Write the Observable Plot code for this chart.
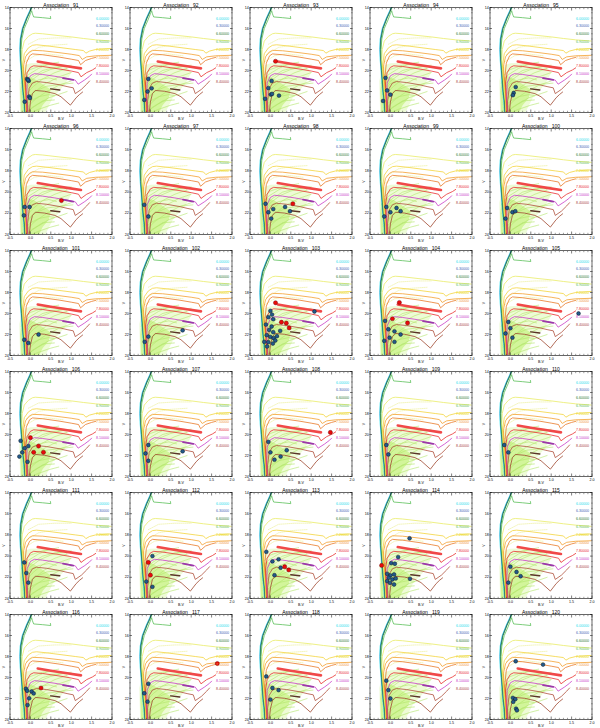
<!DOCTYPE html>
<html><head><meta charset="utf-8">
<script src="https://cdn.jsdelivr.net/npm/d3@7"></script>
<script src="https://cdn.jsdelivr.net/npm/@observablehq/plot@0.6"></script>
<style>
body{margin:0;background:#fff;}
#wrap{position:relative;width:600px;height:728px;overflow:hidden;background:#fff;}
.panel{position:absolute;}
.panel svg{display:block;overflow:visible;}
.panel text{white-space:pre;}
</style></head><body><div id="wrap"></div>
<script>
// ---- panels ----
const associations = [91,92,93,94,95,96,97,98,99,100,101,102,103,104,105,106,107,108,109,110,111,112,113,114,115,116,117,118,119,120];

// ---- axis ticks ----
const xMajor = [-0.5, 0, 0.5, 1, 1.5, 2];
const xMinor = [-0.4,-0.3,-0.2,-0.1,0.1,0.2,0.3,0.4,0.6,0.7,0.8,0.9,1.1,1.2,1.3,1.4,1.6,1.7,1.8,1.9];
const yMajor = [14, 16, 18, 20, 22, 24];
const yMinor = [14.5,15,15.5,16.5,17,17.5,18.5,19,19.5,20.5,21,21.5,22.5,23,23.5];

// ---- isochrone legend ----
const ageLabels = ["6.00000","6.30000","6.60000","6.90000","7.20000","7.50000","7.80000","8.10000","8.40000"];
const ageColors = ["#19e0ec","#3a64b4","#1d7a2c","#5cc05a","#e8e020","#f0a040","#e83030","#c83cc8","#a8483c"];

// ---- isochrones [B-V, V] ----
const isoCyan = [[-0.14,24.5],[-0.16,23],[-0.19,22],[-0.21,21],[-0.23,20],[-0.25,19],[-0.26,18],[-0.25,17],[-0.2,16],[-0.1,15],[0.02,14],[0.08,13.5]];
const isoBlue = [[-0.13,24.5],[-0.15,23],[-0.18,22],[-0.2,21],[-0.22,20],[-0.24,19],[-0.25,18],[-0.24,17],[-0.19,16],[-0.09,15],[0.03,14],[0.09,13.5]];
const isoDarkGreen = [[-0.12,24.5],[-0.14,23],[-0.17,22],[-0.19,21],[-0.21,20],[-0.23,19],[-0.24,18],[-0.23,17],[-0.18,16],[-0.08,15],[0.04,14],[0.1,13.5]];
const isoGreen = [[-0.11,24.5],[-0.13,23],[-0.16,22],[-0.18,21],[-0.2,20],[-0.22,19],[-0.23,18],[-0.21,17],[-0.15,16],[-0.06,15.2],[0.0,14.6],[0.03,14.3],[0.05,14.6],[0.08,14.9],[0.3,14.97],[0.5,15.05],[0.49,14.85]];
const isoPale = [[-0.1,24.5],[-0.12,23],[-0.15,22],[-0.17,21],[-0.19,20],[-0.21,19],[-0.2,18],[-0.15,17.2],[-0.05,16.75],[0.05,16.5],[0.12,16.45],[0.3,16.5],[0.7,16.68],[1.0,16.8],[1.3,16.95],[1.6,17.08],[2.0,17.2],[2.1,17.2]];
const isoYellow = [[-0.1,24.5],[-0.13,22],[-0.17,20.5],[-0.19,19.5],[-0.15,18.4],[-0.05,17.85],[0.05,17.6],[0.15,17.55],[0.4,17.65],[0.8,17.85],[1.1,18.0],[1.3,18.1],[1.36,18.35],[1.45,18.15],[1.6,18.0],[2.0,17.9],[2.1,17.9]];
const isoOrange = [[-0.09,24.5],[-0.12,22],[-0.16,20.5],[-0.17,19.6],[-0.12,18.7],[-0.03,18.25],[0.05,18.08],[0.3,18.12],[0.7,18.3],[1.0,18.45],[1.2,18.58],[1.27,18.95],[1.38,18.7],[1.6,18.6],[2.0,18.55],[2.1,18.55]];
const isoOrange2 = [[-0.08,24.5],[-0.11,22],[-0.14,20.8],[-0.1,19.3],[-0.02,18.6],[0.05,18.42],[0.3,18.5],[0.7,18.72],[1.0,18.92],[1.18,19.05],[1.23,19.45],[1.35,19.05],[1.5,18.85],[1.6,18.75]];
const isoRed = [[-0.07,24.5],[-0.1,22.5],[-0.12,21.2],[-0.08,20.2],[0.0,19.7],[0.08,19.55],[0.3,19.62],[0.7,19.85],[1.0,20.05],[1.18,20.2],[1.24,20.6],[1.38,20.2],[1.52,19.95],[1.6,19.75]];
const redClump = [[0.18,19.15],[0.5,19.35],[0.9,19.6],[1.24,19.8]];
const isoMagenta = [[-0.06,24.5],[-0.09,22.8],[-0.08,21.2],[0.0,20.5],[0.1,20.3],[0.3,20.38],[0.6,20.55],[0.95,20.8],[1.1,20.92],[1.17,21.3],[1.33,20.9],[1.45,20.55],[1.5,20.35]];
const magentaClump = [[0.8,20.72],[1.05,20.9]];
const isoBrown = [[-0.05,24.5],[-0.07,23],[-0.03,21.7],[0.05,21.2],[0.15,21.05],[0.4,21.15],[0.7,21.35],[0.92,21.55],[1.05,21.65],[1.1,22.2],[1.25,21.8],[1.38,21.3],[1.45,21.0]];
const isoBrown2 = [[-0.04,24.5],[0.0,23],[0.05,22.2],[0.12,21.9],[0.35,21.98],[0.6,22.2],[0.75,22.5],[0.98,23.3],[1.12,22.6],[1.2,22.3],[1.28,22.05]];
const brownClump = [[0.5,21.75],[0.72,21.85]];

// ---- background model population (light green) ----
const cloudHalo = [[-0.25,24.5],[-0.27,21],[-0.2,19.6],[0.0,19.3],[0.4,19.25],[0.85,19.45],[1.0,20.2],[0.85,21.3],[0.55,22.6],[0.3,24.5]];
const cloudPatch = [[-0.22,24.5],[-0.25,22],[-0.22,21],[-0.1,20.5],[0.1,20.8],[0.3,21.3],[0.5,21.8],[0.45,22.6],[0.3,23.3],[0.15,24.5]];
const fan1 = [[-0.15,23.8],[0.1,22.8],[0.4,22.0],[0.7,21.4],[1.0,21.0]];
const fan2 = [[-0.17,23.2],[0.05,22.2],[0.35,21.3],[0.7,20.6],[1.0,20.2]];
const fan3 = [[-0.18,22.6],[0.05,21.6],[0.3,20.8],[0.6,20.2],[0.9,19.8]];
const fan4 = [[-0.2,22.0],[0.0,21.0],[0.25,20.3],[0.5,19.9],[0.8,19.6]];
const fan5 = [[-0.12,24.0],[0.15,23.3],[0.45,22.6],[0.75,22.2],[0.9,22.0]];
const fan6 = [[-0.1,24.2],[0.2,23.7],[0.5,23.3],[0.7,23.1]];
const fan7 = [[-0.22,21.2],[-0.05,20.4],[0.2,19.8],[0.45,19.4],[0.7,19.2]];
const fan8 = [[-0.16,23.5],[0.0,22.9],[0.2,22.5],[0.45,22.3],[0.6,22.4]];
const fan9 = [[-0.19,22.3],[-0.02,21.3],[0.2,20.9],[0.45,20.7],[0.65,20.9]];
const fan10 = [[-0.21,21.6],[0.05,20.6],[0.3,20.0],[0.6,19.7],[1.0,19.5]];
const fan11 = [[-0.14,24.2],[0.05,23.5],[0.3,22.9],[0.6,22.8]];
const fan12 = [[-0.2,20.6],[0.0,19.9],[0.3,19.5],[0.6,19.3]];
const fan13 = [[-0.18,23.0],[0.1,22.0],[0.4,21.5],[0.8,21.3],[1.05,21.2]];
const paleFan1 = [[-0.1,18.5],[0.2,17.8],[0.5,17.6],[0.9,17.5]];
const paleFan2 = [[-0.05,17.5],[0.2,17.0],[0.6,16.9],[1.0,16.9]];
const paleFan3 = [[-0.15,19.2],[0.1,18.6],[0.4,18.4],[0.8,18.6]];

// ---- association members [assoc, B-V, V] ----
const blueStars = [
 [91,-0.08,20.8],[91,-0.04,20.99],[91,-0.06,20.9],[91,-0.03,22.48],[91,-0.01,22.62],[91,-0.14,22.97],
 [92,-0.05,20.8],[92,-0.07,22.0],[92,0.03,21.7],[92,-0.15,22.8],
 [93,0.03,20.99],[93,-0.05,21.67],[93,0.01,22.29],[93,0.04,22.23],[93,0.21,22.39],[93,-0.13,22.7],
 [94,-0.12,20.7],[94,-0.08,21.9],[94,0.0,22.3],[94,-0.18,22.9],
 [95,0.13,21.58],[95,0.08,22.14],[95,0.06,22.35],
 [96,-0.14,21.4],[96,-0.02,21.4],[96,-0.16,22.2],
 [97,-0.15,21.2],[97,-0.05,22.3],
 [98,-0.12,21.1],[98,-0.05,21.9],[98,0.07,21.6],[98,0.36,21.4],[98,0.48,21.8],[98,0.02,22.5],
 [99,-0.1,21.4],[99,0.0,21.9],[99,0.15,21.5],[99,-0.15,22.3],[99,0.25,21.8],
 [100,-0.08,21.5],[100,0.05,21.9],[100,0.12,21.8],[100,-0.12,22.5],
 [101,0.2,22.0],[101,-0.15,22.5],[101,-0.05,22.8],
 [102,0.79,21.6],[102,-0.05,22.2],[102,-0.14,22.7],
 [103,1.08,19.81],[103,0.0,19.75],[103,0.04,20.1],[103,-0.05,20.35],[103,0.07,20.54],[103,-0.11,21.05],[103,0.03,21.24],[103,-0.03,21.56],[103,0.07,21.78],[103,0.24,21.65],[103,-0.09,22.06],[103,0.0,22.22],[103,0.08,22.35],[103,0.16,22.16],[103,-0.15,22.7],[103,-0.05,22.73],[103,0.06,22.86],[103,0.12,22.57],[103,-0.08,23.14],
 [104,-0.13,20.7],[104,-0.05,21.5],[104,0.1,21.7],[104,0.25,22.0],[104,-0.02,22.3],[104,-0.15,22.6],[104,0.1,22.7],
 [105,1.67,20.0],[105,-0.05,20.8],[105,0.0,21.4],[105,-0.12,21.9],[105,0.05,22.3],
 [106,-0.24,20.6],[106,-0.14,21.3],[106,-0.27,22.1],[106,-0.07,22.6],[106,-0.2,21.7],[106,-0.05,21.1],
 [107,0.79,21.6],[107,-0.05,21.0],[107,-0.12,21.8],[107,-0.05,22.5],
 [108,-0.05,20.7],[108,0.0,21.7],[108,0.1,22.4],[108,0.25,22.1],[108,0.4,21.5],
 [109,-0.1,21.0],[109,-0.05,21.9],
 [110,-0.05,21.7],[110,-0.15,21.0],
 [111,-0.15,20.6],[111,-0.1,21.6],[111,-0.05,22.5],
 [112,0.05,20.0],[112,-0.1,22.4],[112,0.05,22.9],
 [113,-0.1,19.6],[113,0.05,20.5],[113,0.2,20.3],[113,0.25,21.1],[113,0.1,21.8],
 [114,0.47,18.32],[114,0.19,20.09],[114,0.02,20.66],[114,0.11,20.72],[114,-0.08,21.67],[114,0.0,21.82],[114,0.09,21.73],[114,-0.04,22.04],[114,0.05,22.2],[114,0.13,22.11],[114,-0.08,22.36],[114,-0.01,22.52],[114,0.09,22.68],[114,0.48,22.14],
 [115,0.0,21.0],[115,0.15,21.5],[115,0.25,21.9],[115,-0.05,22.5],
 [116,-0.11,21.07],[116,-0.08,21.26],[116,0.03,21.33],[116,0.08,21.52],[116,-0.03,21.98],[116,-0.07,22.63],
 [117,-0.05,20.6],[117,-0.15,21.5],[117,-0.07,22.3],
 [118,-0.1,19.9],[118,0.05,21.0],[118,0.2,21.2],[118,0.0,22.1],
 [119,-0.1,20.3],[119,-0.05,21.2],[119,0.0,22.0],
 [120,0.13,18.45],[120,0.8,18.77],[120,0.06,21.94],[120,0.12,22.06],[120,0.07,22.32],[120,0.14,22.97],[120,0.16,23.13]
];
const redStars = [
 [93,0.125,19.12],
 [96,0.76,20.8],
 [98,0.55,21.1],
 [103,0.125,18.98],[103,0.27,20.83],[103,0.39,20.92],[103,0.46,21.37],
 [104,0.22,18.95],[104,0.05,20.5],[104,0.42,20.9],
 [106,0.0,20.3],[106,0.2,21.1],[106,0.32,21.7],[106,0.08,21.7],
 [108,1.47,19.8],
 [112,-0.05,20.6],[112,0.0,21.8],
 [113,0.35,21.0],[113,0.45,21.3],
 [114,-0.215,20.88],
 [116,0.26,21.0],
 [117,1.64,18.67]
];

// ---- build ----
const isoLines = [
  [isoCyan, ageColors[0], 0.8],
  [isoBlue, ageColors[1], 0.8],
  [isoDarkGreen, ageColors[2], 0.8],
  [isoGreen, ageColors[3], 0.8],
  [isoPale, "#ecee78", 0.9],
  [isoYellow, "#f4d43c", 0.8],
  [isoOrange, "#f4a030", 0.8],
  [isoOrange2, "#e87a28", 0.8],
  [isoRed, "#e83030", 0.8],
  [redClump, "#f04848", 2.6],
  [isoMagenta, "#c83cc8", 0.8],
  [magentaClump, "#9a3aa8", 1.8],
  [isoBrown, "#b0503c", 0.8],
  [isoBrown2, "#a04830", 0.8],
  [brownClump, "#5a3428", 1.5]
];
const fans = [fan1, fan2, fan3, fan4, fan5, fan6, fan7, fan8, fan9, fan10, fan11, fan12, fan13];
const paleFans = [paleFan1, paleFan2, paleFan3];
const X = d => d[0], Y = d => d[1];
const FONT = "'Liberation Sans', Arial, sans-serif";

function panel(id, h) {
  const blue = blueStars.filter(d => d[0] === id);
  const red = redStars.filter(d => d[0] === id);
  const marks = [
    Plot.line(cloudHalo, {x: X, y: Y, fill: "#eefbd6", stroke: "none", clip: true}),
    Plot.line(cloudPatch, {x: X, y: Y, fill: "#d2f59a", stroke: "none", clip: true}),
    ...fans.map(f => Plot.line(f, {x: X, y: Y, stroke: "#b2e66a", strokeWidth: 0.6, strokeDasharray: "0.9,0.7", clip: true})),
    ...paleFans.map(f => Plot.line(f, {x: X, y: Y, stroke: "#eef0a0", strokeWidth: 0.7, strokeDasharray: "1,1", clip: true})),
    ...isoLines.map(([pts, c, w]) => Plot.line(pts, {x: X, y: Y, stroke: c, strokeWidth: w, clip: true})),
    Plot.dot(blue, {x: d => d[1], y: d => d[2], r: 1.9, fill: "#23598a", stroke: "#0a1a2a", strokeWidth: 0.5}),
    Plot.dot(red, {x: d => d[1], y: d => d[2], r: 2.1, fill: "#e80a0a", stroke: "#600000", strokeWidth: 0.4}),
    Plot.frame({stroke: "#000", strokeWidth: 0.6}),
    // tick labels + axis titles
    Plot.axisX(xMajor, {anchor: "bottom", tickSize: 0, tickPadding: 1.5, fontSize: 3.6, tickFormat: d => d.toFixed(1), label: "B-V", labelAnchor: "center", labelOffset: 7.5, labelArrow: "none"}),
    Plot.axisY(yMajor, {anchor: "left", tickSize: 0, tickPadding: 1.2, fontSize: 3.6, tickFormat: d => String(d), label: "V", labelAnchor: "center", labelOffset: 8, labelArrow: "none"}),
    // inward ticks on all sides
    Plot.axisX(xMajor, {anchor: "bottom", tickSize: -2.5, fill: "none", strokeWidth: 0.5}),
    Plot.axisX(xMajor, {anchor: "top", tickSize: -2.5, fill: "none", strokeWidth: 0.5}),
    Plot.axisX(xMinor, {anchor: "bottom", tickSize: -1.2, fill: "none", strokeWidth: 0.4}),
    Plot.axisX(xMinor, {anchor: "top", tickSize: -1.2, fill: "none", strokeWidth: 0.4}),
    Plot.axisY(yMajor, {anchor: "left", tickSize: -2.5, fill: "none", strokeWidth: 0.5}),
    Plot.axisY(yMajor, {anchor: "right", tickSize: -2.5, fill: "none", strokeWidth: 0.5}),
    Plot.axisY(yMinor, {anchor: "left", tickSize: -1.2, fill: "none", strokeWidth: 0.4}),
    Plot.axisY(yMinor, {anchor: "right", tickSize: -1.2, fill: "none", strokeWidth: 0.4}),
    // title
    Plot.text([`Association   ${id}`], {frameAnchor: "top", dy: -3.6, fontSize: 5, fill: "#000"}),
    // isochrone legend
    ...ageLabels.map((t, i) => Plot.text([t], {frameAnchor: "top-right", dx: -3, dy: 9.5 + 7.9 * i, textAnchor: "end", fontSize: 3.6, fill: ageColors[i]}))
  ];
  return Plot.plot({
    width: 120, height: h,
    marginTop: 7, marginBottom: 9, marginLeft: 9.5, marginRight: 8.5,
    x: {domain: [-0.5, 2.0]},
    y: {domain: [24, 14]},
    style: {fontFamily: FONT, background: "transparent"},
    marks
  });
}

const wrap = document.getElementById("wrap");
associations.forEach((id, k) => {
  const r = Math.floor(k / 5), c = k % 5;
  const top = Math.round(r * 728 / 6), next = Math.round((r + 1) * 728 / 6);
  const div = document.createElement("div");
  div.className = "panel";
  div.style.left = (c * 120) + "px";
  div.style.top = top + "px";
  div.appendChild(panel(id, next - top));
  wrap.appendChild(div);
});
</script>
</body></html>
